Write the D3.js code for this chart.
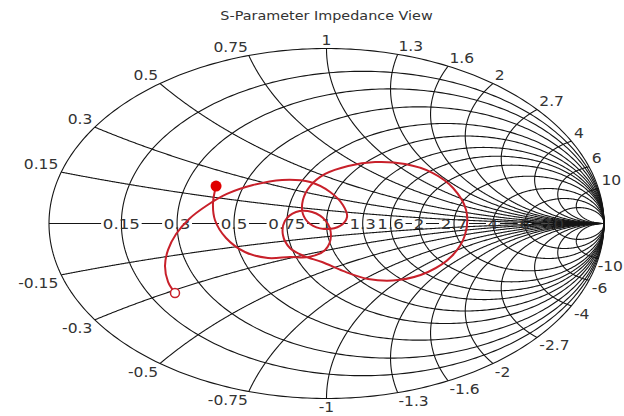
<!DOCTYPE html>
<html>
<head>
<meta charset="utf-8">
<script src="https://cdn.jsdelivr.net/npm/d3@7"></script>
<style>
  body { margin: 0; background: #fff; }
  text { font-family: "DejaVu Sans", Verdana, sans-serif; fill: #333; }
</style>
</head>
<body>
<div id="chart"></div>
<script>
const WIDTH = 624;
const HEIGHT = 416;

const TITLE = 'S-Parameter Impedance View';

// constant resistance circles and their axis labels
const resistances = [0.15, 0.3, 0.5, 0.75, 1, 1.3, 1.6, 2, 2.7, 4, 6, 10];
const resistanceLabels = ['0.15', '0.3', '0.5', '0.75', '1', '1.3', '1.6', '2', '2.7', '4', '6', '10'];

// constant reactance arcs and their rim labels
const reactances = [0.15, 0.3, 0.5, 0.75, 1, 1.3, 1.6, 2, 2.7, 4, 6, 10,
                    -0.15, -0.3, -0.5, -0.75, -1, -1.3, -1.6, -2, -2.7, -4, -6, -10];
const reactanceLabels = ['0.15', '0.3', '0.5', '0.75', '1', '1.3', '1.6', '2', '2.7', '4', '6', '10',
                         '-0.15', '-0.3', '-0.5', '-0.75', '-1', '-1.3', '-1.6', '-2', '-2.7', '-4', '-6', '-10'];

const traceRe = [-0.546, -0.571, -0.582, -0.571, -0.542, -0.495, -0.434, -0.359, -0.265, -0.160,
                 -0.059, 0.013, 0.059, 0.074, 0.049, -0.009, -0.059, -0.085, -0.085, -0.059,
                 -0.005, 0.078, 0.175, 0.283, 0.380, 0.456, 0.503, 0.499, 0.452, 0.366,
                 0.258, 0.150, 0.059, -0.016, -0.081, -0.132, -0.157, -0.150, -0.110, -0.052,
                 -0.002, 0.016, -0.005, -0.063, -0.132, -0.211, -0.294, -0.362, -0.402, -0.409,
                 -0.398];
const traceIm = [-0.397, -0.334, -0.243, -0.151, -0.060, 0.026, 0.100, 0.169, 0.220, 0.249,
                 0.237, 0.180, 0.106, 0.037, -0.014, -0.031, -0.003, 0.054, 0.134, 0.214,
                 0.283, 0.329, 0.351, 0.340, 0.291, 0.203, 0.077, -0.066, -0.186, -0.277,
                 -0.323, -0.317, -0.271, -0.220, -0.186, -0.140, -0.066, 0.014, 0.066, 0.066,
                 0.014, -0.071, -0.151, -0.191, -0.191, -0.197, -0.163, -0.083, 0.020, 0.117,
                 0.214];

const CX = 326.5, CY = 223.5, RX = 277.5, RY = 175;
const TEXT_STRETCH = 1.15;

let svg = d3.select('#chart').append('svg')
    .attr('width', WIDTH)
    .attr('height', HEIGHT);

let x = d3.scaleLinear().domain([-1, 1]).range([CX - RX, CX + RX]);
let y = d3.scaleLinear().domain([-1, 1]).range([CY + RY, CY - RY]);

let line = d3.line().x(p => x(p[0])).y(p => y(p[1]));

svg.append('text')
    .attr('transform', 'translate(' + CX + ',20) scale(' + TEXT_STRETCH + ',1)')
    .attr('text-anchor', 'middle')
    .style('font-size', '12.5px')
    .text(TITLE);

let rectLayer = svg.append('g');
let gridLayer = svg.append('g').attr('fill', 'none').attr('stroke', '#151515').attr('stroke-width', 1.1);
let textLayer = svg.append('g');
let traceLayer = svg.append('g');

// real axis, hidden behind the label boxes
rectLayer.append('path')
    .attr('d', line([[-1, 0], [1, 0]]))
    .attr('stroke', '#151515')
    .attr('stroke-width', 1.1);

// outer rim
gridLayer.append('path')
    .attr('d', line(d3.range(0, 361).map(a => [Math.cos(a * Math.PI / 180), Math.sin(a * Math.PI / 180)])));

resistances.forEach(r => {
    let c = r / (1 + r), R = 1 / (1 + r);
    let pts = d3.range(0, 361).map(a => [c + R * Math.cos(a * Math.PI / 180), R * Math.sin(a * Math.PI / 180)]);
    gridLayer.append('path').attr('d', line(pts));
});

// gamma of z = r + jx
function gamma(r, xv) {
    let d = (r + 1) * (r + 1) + xv * xv;
    return [(r * r - 1 + xv * xv) / d, 2 * xv / d];
}

reactances.forEach(xv => {
    let pts = d3.range(0, 600).map(i => {
        let t = i / 600;
        return gamma(t / (1 - t), xv);
    });
    pts.push([1, 0]);
    gridLayer.append('path').attr('d', line(pts));
});

// resistance labels on the real axis
resistances.forEach((r, i) => {
    let gr = (r - 1) / (r + 1);
    let g = textLayer.append('g')
        .attr('transform', 'translate(' + x(gr) + ',' + (y(0) + 5.5) + ') scale(' + TEXT_STRETCH + ',1)');
    let t = g.append('text')
        .attr('text-anchor', 'middle')
        .style('font-size', '14.5px')
        .text(resistanceLabels[i]);
    let w = t.node().getComputedTextLength();
    rectLayer.append('rect')
        .attr('x', x(gr) - (w / 2 + 1.5) * TEXT_STRETCH)
        .attr('y', y(0) - 7)
        .attr('width', (w + 3) * TEXT_STRETCH)
        .attr('height', 14)
        .attr('fill', '#fff');
});

// reactance labels around the rim
reactances.forEach((xv, i) => {
    let p = gamma(0, xv);
    let anchor = p[0] < -0.1 ? 'end' : (p[0] > 0.1 ? 'start' : 'middle');
    let tx = x(p[0]) + p[0] * 3;
    let ty = p[1] > 0 ? y(p[1]) - 3.5 : y(p[1]) + 13;
    let t = textLayer.append('text')
        .attr('text-anchor', anchor)
        .style('font-size', '13.5px')
        .text(reactanceLabels[i]);
    let w = t.node().getComputedTextLength() * TEXT_STRETCH;
    if (anchor == 'start' && tx + w > WIDTH - 1) tx = WIDTH - 1 - w;
    t.attr('transform', 'translate(' + tx + ',' + ty + ') scale(' + TEXT_STRETCH + ',1)');
});

// the trace
let trace = traceRe.map((v, i) => [v, traceIm[i]]);
traceLayer.append('path')
    .attr('d', d3.line().x(p => x(p[0])).y(p => y(p[1])).curve(d3.curveCatmullRom)(trace))
    .attr('fill', 'none')
    .attr('stroke', '#c8202a')
    .attr('stroke-width', 2);

let first = trace[0], last = trace[trace.length - 1];
traceLayer.append('circle')
    .attr('cx', x(first[0]))
    .attr('cy', y(first[1]))
    .attr('r', 4.5)
    .attr('fill', '#fff')
    .attr('stroke', '#c8202a')
    .attr('stroke-width', 1.5);
traceLayer.append('circle')
    .attr('cx', x(last[0]))
    .attr('cy', y(last[1]))
    .attr('r', 5.5)
    .attr('fill', '#e00000');
</script>
</body>
</html>
